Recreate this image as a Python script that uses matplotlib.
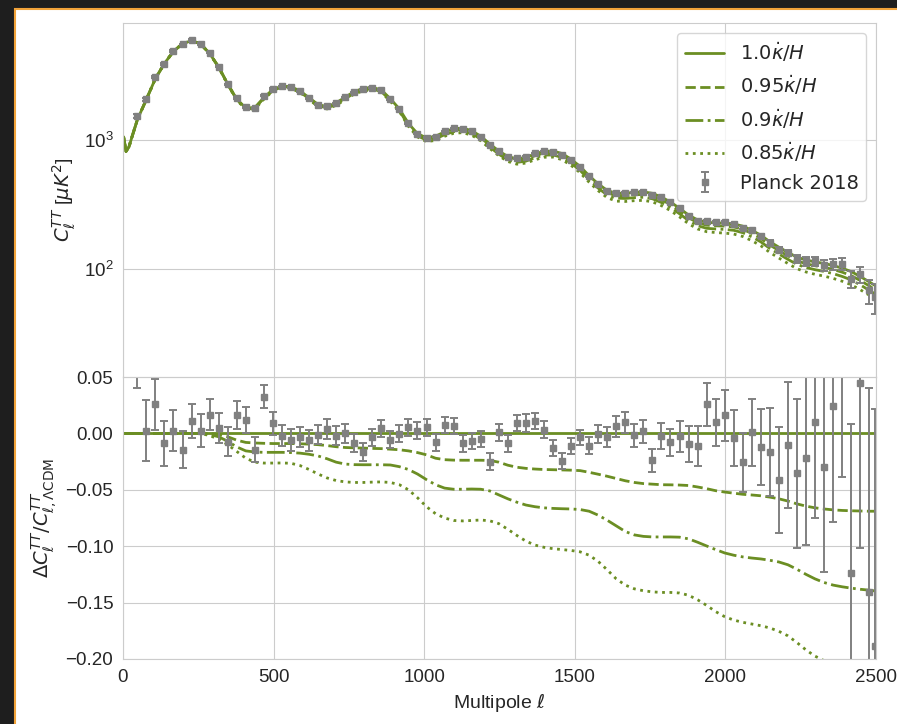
import matplotlib
matplotlib.use("Agg")
import matplotlib.pyplot as plt
import numpy as np
import seaborn as sns
from matplotlib.patches import Rectangle
from matplotlib.ticker import LogLocator, NullLocator, LogFormatterMathtext

sns.set_style("whitegrid")
plt.rcParams['font.family'] = ['Liberation Sans', 'DejaVu Sans']
plt.rcParams['mathtext.fontset'] = 'dejavusans'

# low multipoles, theory only
ell_low = [2, 10, 20, 30]
dl_low = [1050, 810, 880, 1050]

# Planck 2018 binned TT centres (delta ell = 30, last bin narrower)
ell_bin = np.append(np.arange(47.7, 2478, 30.0), 2497.0)

# LCDM best fit D_ell [muK^2] at the bin centres
dl_bin = [1420, 2040, 2950, 3860, 4780, 5480, 5780, 5450, 4600, 3620,
          2680, 2050, 1745, 1765, 2100, 2430, 2580, 2550, 2370, 2100,
          1860, 1790, 1915, 2120, 2340, 2480, 2520, 2410, 2060, 1720,
          1330, 1110, 1030, 1060, 1145, 1210, 1225, 1170, 1060, 925,
          815, 740, 710, 728, 775, 812, 815, 780, 705, 620,
          525, 455, 405, 385, 385, 392, 395, 385, 360, 330,
          295, 262, 240, 230, 228, 227, 224, 215, 200, 183,
          163, 148, 135, 124, 118, 114, 111, 107, 102, 96,
          88, 80, 75]

# fractional change w.r.t. LCDM for the reduced opacity runs
delta_095 = [0.0] * 13 + [
    -0.001, -0.003, -0.006, -0.008, -0.0085, -0.0088, -0.009, -0.009, -0.009, -0.0092,
    -0.0095, -0.0100, -0.0108, -0.0118, -0.0125, -0.0128, -0.013, -0.0133, -0.0135, -0.014,
    -0.0145, -0.0155, -0.017, -0.019, -0.022, -0.0233, -0.0237, -0.0238, -0.0238, -0.0238,
    -0.024, -0.0255, -0.0282, -0.030, -0.031, -0.0316, -0.032, -0.0322, -0.0324, -0.0326,
    -0.033, -0.0345, -0.0362, -0.038, -0.040, -0.042, -0.0435, -0.0445, -0.045, -0.0455,
    -0.0456, -0.0458, -0.0462, -0.0475, -0.049, -0.0508, -0.052, -0.053, -0.054, -0.0546,
    -0.0553, -0.0565, -0.058, -0.060, -0.0625, -0.0645, -0.066, -0.067, -0.0678, -0.0683,
    -0.0686, -0.0688, -0.069, -0.069]
delta_090 = [0.0] * 12 + [
    -0.001, -0.003, -0.007, -0.012, -0.0155, -0.0165, -0.0168, -0.0168, -0.0168, -0.017,
    -0.0175, -0.0185, -0.020, -0.0225, -0.0255, -0.0272, -0.0277, -0.0278, -0.0278, -0.0278,
    -0.028, -0.0295, -0.032, -0.036, -0.041, -0.0455, -0.0485, -0.0495, -0.0495, -0.0493,
    -0.0495, -0.051, -0.0545, -0.058, -0.061, -0.0635, -0.065, -0.066, -0.0665, -0.0668,
    -0.067, -0.0675, -0.069, -0.0725, -0.077, -0.082, -0.087, -0.090, -0.0913, -0.0918,
    -0.0918, -0.0918, -0.092, -0.0935, -0.0965, -0.0998, -0.103, -0.106, -0.108, -0.1095,
    -0.1105, -0.1113, -0.1125, -0.114, -0.1165, -0.1205, -0.125, -0.129, -0.1322, -0.1345,
    -0.136, -0.1372, -0.1382, -0.139, -0.1397]
delta_085 = [0.0] * 12 + [
    -0.002, -0.005, -0.010, -0.016, -0.022, -0.0255, -0.0263, -0.0263, -0.0262, -0.0265,
    -0.0285, -0.032, -0.036, -0.0395, -0.0418, -0.043, -0.0435, -0.0435, -0.0432, -0.043,
    -0.0435, -0.0455, -0.050, -0.057, -0.065, -0.0712, -0.075, -0.0772, -0.0776, -0.0772,
    -0.0768, -0.0775, -0.080, -0.085, -0.0905, -0.0955, -0.099, -0.101, -0.1022, -0.103,
    -0.1038, -0.105, -0.108, -0.1135, -0.121, -0.129, -0.1345, -0.1378, -0.1395, -0.1405,
    -0.141, -0.141, -0.1415, -0.1435, -0.1475, -0.1525, -0.158, -0.1625, -0.1655, -0.1675,
    -0.169, -0.1705, -0.1725, -0.1755, -0.1795, -0.1855, -0.192, -0.1975, -0.2015, -0.2045,
    -0.2065, -0.208, -0.209, -0.2098, -0.210]

# Planck 2018: fractional residual and error relative to LCDM
planck_res = [0.07, 0.0024, 0.026, -0.0089, 0.0024, -0.0145, 0.011, 0.0024, 0.0166, 0.0047,
              -0.0074, 0.0166, 0.0118, -0.0145, 0.0326, 0.0089, -0.0021, -0.0059, -0.0036, -0.0059,
              -0.0012, 0.0038, -0.0021, 0.0, -0.0083, -0.0169, -0.0036, 0.0044, -0.0056, -0.0003,
              0.0053, 0.0024, 0.0053, -0.008, 0.0074, 0.0068, -0.0086, -0.0068, -0.005, -0.0252,
              0.0009, -0.0086, 0.0092, 0.0092, 0.011, 0.0033, -0.0133, -0.0243, -0.011, -0.0036,
              -0.011, -0.0009, -0.0033, 0.0062, 0.0098, -0.0018, 0.0018, -0.024, -0.0021, -0.008,
              -0.0027, -0.0095, -0.011, 0.0258, 0.0098, 0.016, -0.0044, -0.0258, 0.0009, -0.0121,
              -0.0163, -0.0411, -0.0101, -0.0352, -0.0222, 0.0098, -0.0302, 0.0243, 0.075, -0.1234,
              0.045, -0.141, -0.1886]
planck_err = [0.03, 0.027, 0.0226, 0.0197, 0.018, 0.0166, 0.015, 0.0144, 0.0136, 0.013,
              0.0129, 0.0123, 0.0118, 0.011, 0.0105, 0.0102, 0.0093, 0.0095, 0.0089, 0.0093,
              0.0086, 0.009, 0.0086, 0.0084, 0.008, 0.008, 0.0074, 0.0078, 0.0077, 0.0077,
              0.0077, 0.0078, 0.0074, 0.0074, 0.0072, 0.0071, 0.0075, 0.0073, 0.0072, 0.0074,
              0.0075, 0.0075, 0.0075, 0.0077, 0.0075, 0.0074, 0.0071, 0.0073, 0.0073, 0.007,
              0.0077, 0.008, 0.009, 0.009, 0.0096, 0.010, 0.0104, 0.0105, 0.0114, 0.0121,
              0.0138, 0.0157, 0.0175, 0.0192, 0.021, 0.0226, 0.0249, 0.0263, 0.0296, 0.0336,
              0.0392, 0.047, 0.056, 0.066, 0.0764, 0.0847, 0.093, 0.103, 0.114, 0.132,
              0.147, 0.181, 0.21]

labels = [r'1.0$\dot{\kappa}/H$', r'0.95$\dot{\kappa}/H$', r'0.9$\dot{\kappa}/H$', r'0.85$\dot{\kappa}/H$']
styles = ['-', '--', '-.', ':']
green = '#6b8e23'

ell = np.concatenate([ell_low, ell_bin])
dl_lcdm = np.array(dl_low + dl_bin, dtype=float)
deltas = [np.zeros(len(ell)), np.array(delta_095), np.array(delta_090), np.array(delta_085)]

dl_ref = np.array(dl_bin, dtype=float)
res = np.array(planck_res)
err = np.array(planck_err)
dl_planck = dl_ref * (1 + res)
dl_planck_err = dl_ref * err

fig = plt.figure(figsize=(8.97, 7.24), dpi=100)
fig.patch.set_facecolor('#1e1e1e')
fig.patches.append(Rectangle((15 / 897, -0.05), 1.0, 1.05 - 9 / 724, transform=fig.transFigure,
                             facecolor='white', edgecolor='#f2a33a', lw=1.5, zorder=-10))

ax1, ax2 = fig.subplots(2, 1, sharex=True, gridspec_kw=dict(height_ratios=[354, 282], hspace=0))
fig.subplots_adjust(left=0.1371, right=0.9766, top=0.9682, bottom=0.0898)

for d, ls, lab in zip(deltas, styles, labels):
    ax1.plot(ell, dl_lcdm * (1 + d), ls=ls, color=green, lw=2, label=lab)
    ax2.plot(ell, d, ls=ls, color=green, lw=2)

eb_kw = dict(fmt='s', color='gray', ms=5, elinewidth=1.4, capsize=3, capthick=1.4)
ax1.errorbar(ell_bin, dl_planck, yerr=dl_planck_err, label='Planck 2018', **eb_kw)
ax2.errorbar(ell_bin, res, yerr=err, **eb_kw)

ax1.set_yscale('log')
ax1.set_ylim(14.8, 7900)
ax1.yaxis.set_major_locator(LogLocator(base=10))
ax1.yaxis.set_major_formatter(LogFormatterMathtext())
ax1.yaxis.set_minor_locator(NullLocator())
ax1.set_ylabel(r'$C_\ell^{TT}$ [$\mu K^2$]', fontsize=14)
ax1.legend(loc='upper right', prop={'family': 'DejaVu Sans', 'size': 14})
ax1.tick_params(labelbottom=False)

ax2.set_xlim(0, 2500)
ax2.set_ylim(-0.2, 0.05)
ax2.set_yticks([0.05, 0.0, -0.05, -0.10, -0.15, -0.20])
ax2.set_xlabel(r'Multipole $\ell$', fontsize=14)
ax2.set_ylabel(r'$\Delta C_\ell^{TT}/C_{\ell,\Lambda{\rm CDM}}^{TT}$', fontsize=14)

for ax in (ax1, ax2):
    ax.tick_params(labelsize=13.5)
    for s in ax.spines.values():
        s.set_color('#cccccc')

fig.savefig('out.png', dpi=100, facecolor=fig.get_facecolor())
